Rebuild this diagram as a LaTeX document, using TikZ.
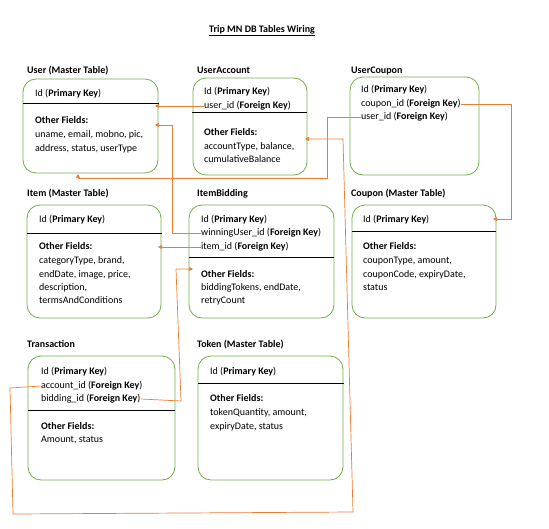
\documentclass[tikz,border=0pt]{standalone}
\usepackage{fontspec}
\setmainfont{Carlito}
\usetikzlibrary{arrows.meta}
\definecolor{boxgreen}{RGB}{112,173,71}
\definecolor{wireorange}{RGB}{237,125,49}
\begin{document}
\begin{tikzpicture}[x=1pt,y=-1pt,
  tbox/.style={draw=boxgreen, line width=0.8pt, rounded corners=13pt, anchor=north west, inner sep=0pt, outer sep=0pt},
  fld/.style={anchor=west, inner sep=0pt, font=\fontsize{10}{12}\selectfont, text height=6.8pt, text depth=2pt},
  hdr/.style={fld, font=\fontsize{10}{12}\selectfont\bfseries},
  divider/.style={draw=black, line width=0.7pt},
  conn/.style={draw=wireorange, line width=0.7pt, -{Triangle[length=4pt,width=4pt]}}
]
\useasboundingbox (0,0) rectangle (549,528);

% title
\node[hdr, anchor=center] (title) at (262,30) {\underline{Trip MN DB Tables Wiring}};

% headers
\node[hdr] (h-user) at (27,71) {User (Master Table)};
\node[hdr] (h-ua) at (197,71) {UserAccount};
\node[hdr] (h-uc) at (351,71) {UserCoupon};
\node[hdr] (h-item) at (27,194) {Item (Master Table)};
\node[hdr] (h-ib) at (197,194) {ItemBidding};
\node[hdr] (h-coupon) at (351,194) {Coupon (Master Table)};
\node[hdr] (h-tr) at (27,345) {Transaction};
\node[hdr] (h-token) at (197,345) {Token (Master Table)};

% boxes
\node[tbox, minimum width=135pt, minimum height=94pt] (user) at (23,79) {};
\node[tbox, minimum width=114pt, minimum height=97pt] (ua) at (193,78) {};
\node[tbox, minimum width=129pt, minimum height=98pt] (uc) at (350,77) {};
\node[tbox, minimum width=134pt, minimum height=113pt] (item) at (27,205) {};
\node[tbox, minimum width=145pt, minimum height=113pt] (ib) at (189,205) {};
\node[tbox, minimum width=144pt, minimum height=113pt] (coupon) at (352,205) {};
\node[tbox, minimum width=147pt, minimum height=124pt] (tr) at (28,356) {};
\node[tbox, minimum width=145pt, minimum height=124pt] (token) at (198,356) {};

% dividers
\draw[divider] (user.west |- 0,103) -- ([xshift=1pt]user.east |- 0,103);
\draw[divider] ([xshift=-1pt]ua.west |- 0,112) -- (ua.east |- 0,112);
\draw[divider] (item.west |- 0,233) -- ([xshift=1pt]item.east |- 0,233);
\draw[divider] (ib.west |- 0,257) -- (ib.east |- 0,257);
\draw[divider] (coupon.west |- 0,231) -- (coupon.east |- 0,231);
\draw[divider] (tr.west |- 0,410) -- (tr.east |- 0,410);
\draw[divider] (token.west |- 0,383) -- ([xshift=1pt]token.east |- 0,383);

% User fields
\node[fld] (user1) at (35,94) {Id (\textbf{Primary Key})};
\node[fld] (user2) at (35,121) {\textbf{Other Fields:}};
\node[fld] (user3) at (35,135) {uname, email, mobno, pic,};
\node[fld] (user4) at (35,149) {address, status, userType};

% UserAccount fields
\node[fld] (ua1) at (204,92) {Id (\textbf{Primary Key})};
\node[fld] (ua2) at (204,106) {user\_id (\textbf{Foreign Key})};
\node[fld] (ua3) at (204,133) {\textbf{Other Fields:}};
\node[fld] (ua4) at (204,147) {accountType, balance,};
\node[fld] (ua5) at (204,160) {cumulativeBalance};

% UserCoupon fields
\node[fld] (uc1) at (361,90) {Id (\textbf{Primary Key})};
\node[fld] (uc2) at (361,104) {coupon\_id (\textbf{Foreign Key})};
\node[fld] (uc3) at (361,117) {user\_id (\textbf{Foreign Key})};

% Item fields
\node[fld] (item1) at (39,220) {Id (\textbf{Primary Key})};
\node[fld] (item2) at (39,247) {\textbf{Other Fields:}};
\node[fld] (item3) at (39,261) {categoryType, brand,};
\node[fld] (item4) at (39,275) {endDate, image, price,};
\node[fld] (item5) at (39,288) {description,};
\node[fld] (item6) at (39,301) {termsAndConditions};

% ItemBidding fields
\node[fld] (ib1) at (201,220) {Id (\textbf{Primary Key})};
\node[fld] (ib2) at (201,233) {winningUser\_id (\textbf{Foreign Key})};
\node[fld] (ib3) at (201,247) {item\_id (\textbf{Foreign Key})};
\node[fld] (ib4) at (201,275) {\textbf{Other Fields:}};
\node[fld] (ib5) at (201,288) {biddingTokens, endDate,};
\node[fld] (ib6) at (201,301) {retryCount};

% Coupon fields
\node[fld] (coupon1) at (363,220) {Id (\textbf{Primary Key})};
\node[fld] (coupon2) at (363,247) {\textbf{Other Fields:}};
\node[fld] (coupon3) at (363,261) {couponType, amount,};
\node[fld] (coupon4) at (363,275) {couponCode, expiryDate,};
\node[fld] (coupon5) at (363,288) {status};

% Transaction fields
\node[fld] (tr1) at (41,372) {Id (\textbf{Primary Key})};
\node[fld] (tr2) at (41,386) {account\_id (\textbf{Foreign Key})};
\node[fld] (tr3) at (41,399) {bidding\_id (\textbf{Foreign Key})};
\node[fld] (tr4) at (41,427) {\textbf{Other Fields:}};
\node[fld] (tr5) at (41,440) {Amount, status};

% Token fields
\node[fld] (token1) at (210,372) {Id (\textbf{Primary Key})};
\node[fld] (token2) at (210,399) {\textbf{Other Fields:}};
\node[fld] (token3) at (210,413) {tokenQuantity, amount,};
\node[fld] (token4) at (210,427) {expiryDate, status};

% bend points
\coordinate (c2) at (172,125);
\coordinate (c3a) at (327,178);
\coordinate (c3b) at (78,173);
\coordinate (c4) at (511,219);
\coordinate (c5a) at (10,388);
\coordinate (c5b) at (13,514);
\coordinate (c5c) at (353,512);
\coordinate (c5d) at (343,139);
\coordinate (c6a) at (181,401);
\coordinate (c6b) at (176,269);

% connectors
\draw[conn] (ua2.west) -- ([xshift=-3pt]ua2.west -| user.east);
\draw[conn] (ib2.west) -| (c2) -- ([xshift=-3pt]c2 -| user.east);
\draw[conn] (uc3.west) -| (c3a) -| ([yshift=-1pt]c3b |- user.south);
\draw[conn] (uc2.east) -| (c4) -- ([xshift=-3pt]c4 -| coupon.east);
\draw[conn] (tr2.west) -- (c5a) -- (c5b) -- (c5c) -- (c5d) -- ([xshift=-2pt]c5d -| ua.east);
\draw[conn] (tr3.east) -- (c6a) -- (c6b) -- ([xshift=4pt]c6b -| ib.west);
\draw[conn] (ib3.west) -- ([xshift=-3pt]ib3.west -| item.east);
\end{tikzpicture}
\end{document}
